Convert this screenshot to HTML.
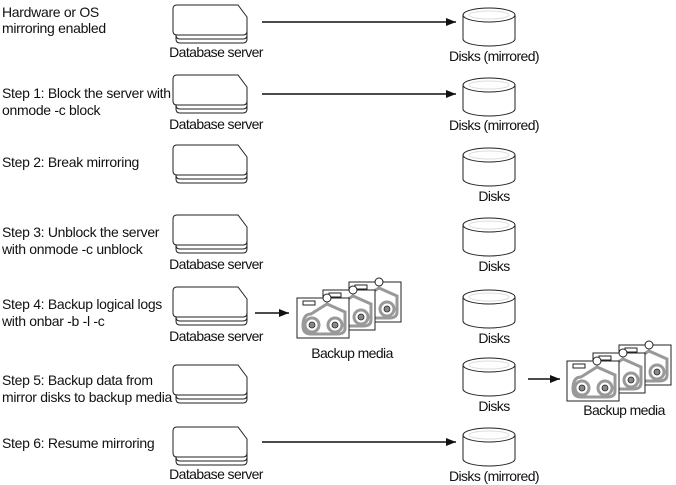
<!DOCTYPE html>
<html><head><meta charset="utf-8"><style>
html,body{margin:0;padding:0;background:#fff;}
svg{display:block;}
text{font-family:"Liberation Sans",sans-serif;font-size:14px;fill:#111;letter-spacing:-0.3px;}
text.c{letter-spacing:-0.6px;}
</style></head><body>
<svg width="676" height="485" viewBox="0 0 676 485" xmlns="http://www.w3.org/2000/svg">
<defs>
<g id="srv" fill="#fff" stroke="#222" stroke-width="1">
<path d="M3,14 h62 l9,10 v10 q0,4 -4,4 h-63 q-4,0 -4,-4 v-10 q0,-4 4,-4z"/>
<path d="M3,10 h62 l9,10 v10 q0,4 -4,4 h-63 q-4,0 -4,-4 v-10 q0,-4 4,-4z"/>
<path d="M4,0 h61 l9,12 v14 q0,4 -4,4 h-66 q-4,0 -4,-4 v-22 q0,-4 4,-4z"/>
</g>
<g id="disk" fill="#fff" stroke="#222" stroke-width="1">
<path d="M0,8 v24 a26,7 0 0 0 52,0 v-24"/>
<ellipse cx="26" cy="8" rx="26" ry="7"/>
<ellipse cx="26" cy="8" rx="20" ry="4" stroke="#ddd"/>
</g>
<g id="cas">
<rect x="0" y="0" width="52" height="40" fill="#fff" stroke="#222"/>
<rect x="6" y="3" width="12" height="4" fill="#fff" stroke="#222"/>
<path d="M14,16 L30,6 L48,14 V30 Q48,36 40,36 H14 Q6,36 6,28 Q6,16 14,16z" fill="none" stroke="#999" stroke-width="3"/>
<circle cx="15" cy="27" r="7" fill="#fff" stroke="#999" stroke-width="3"/>
<circle cx="15" cy="27" r="3" fill="#888" stroke="#222" stroke-width="0.8"/>
<circle cx="38" cy="27" r="7" fill="#fff" stroke="#999" stroke-width="3"/>
<circle cx="38" cy="27" r="3" fill="#888" stroke="#222" stroke-width="0.8"/>
<circle cx="30" cy="0" r="4" fill="#fff" stroke="#222"/>
</g>
<g id="media">
<use href="#cas" x="52" y="-16"/>
<use href="#cas" x="26" y="-8"/>
<use href="#cas" x="0" y="0"/>
</g>
<marker id="ah" markerWidth="10" markerHeight="8" refX="10" refY="4" orient="auto" markerUnits="userSpaceOnUse"><path d="M0,0 L10,4 L0,8z" fill="#111"/></marker>
</defs>

<text x="2" y="17">Hardware or OS</text>
<text x="2" y="33">mirroring enabled</text>
<text x="2" y="98">Step 1: Block the server with</text>
<text x="2" y="115">onmode -c block</text>
<text x="2" y="167">Step 2: Break mirroring</text>
<text x="2" y="237">Step 3: Unblock the server</text>
<text x="2" y="254">with onmode -c unblock</text>
<text x="2" y="309">Step 4: Backup logical logs</text>
<text x="2" y="326">with onbar -b -l -c</text>
<text x="2" y="385">Step 5: Backup data from</text>
<text x="2" y="402" textLength="170" lengthAdjust="spacingAndGlyphs">mirror disks to backup media</text>
<text x="2" y="448">Step 6: Resume mirroring</text>

<use href="#srv" x="173" y="5"/>
<use href="#srv" x="173" y="75"/>
<use href="#srv" x="173" y="145"/>
<use href="#srv" x="173" y="215"/>
<use href="#srv" x="173" y="287"/>
<use href="#srv" x="173" y="365"/>
<use href="#srv" x="173" y="427"/>
<text class="c" x="216" y="57" text-anchor="middle">Database server</text>
<text class="c" x="216" y="129" text-anchor="middle">Database server</text>
<text class="c" x="216" y="269" text-anchor="middle">Database server</text>
<text class="c" x="216" y="341" text-anchor="middle">Database server</text>
<text class="c" x="216" y="479" text-anchor="middle">Database server</text>

<use href="#disk" x="463" y="7"/>
<use href="#disk" x="463" y="77"/>
<use href="#disk" x="463" y="147"/>
<use href="#disk" x="463" y="217"/>
<use href="#disk" x="463" y="289"/>
<use href="#disk" x="463" y="357"/>
<use href="#disk" x="463" y="427"/>
<text class="c" x="494" y="61" text-anchor="middle">Disks (mirrored)</text>
<text class="c" x="494" y="130" text-anchor="middle">Disks (mirrored)</text>
<text class="c" x="494" y="201" text-anchor="middle">Disks</text>
<text class="c" x="494" y="271" text-anchor="middle">Disks</text>
<text class="c" x="494" y="343" text-anchor="middle">Disks</text>
<text class="c" x="494" y="411" text-anchor="middle">Disks</text>
<text class="c" x="494" y="481" text-anchor="middle">Disks (mirrored)</text>

<g stroke="#111" stroke-width="1.5" marker-end="url(#ah)">
<line x1="262" y1="22" x2="456" y2="22"/>
<line x1="262" y1="94" x2="456" y2="94"/>
<line x1="262" y1="442" x2="456" y2="442"/>
<line x1="255" y1="313" x2="289" y2="313"/>
<line x1="528" y1="379" x2="560" y2="379"/>
</g>

<use href="#media" x="297" y="298"/>
<text class="c" x="352" y="358" text-anchor="middle">Backup media</text>
<use href="#media" x="567" y="361"/>
<text class="c" x="624" y="415" text-anchor="middle">Backup media</text>
</svg>
</body></html>
